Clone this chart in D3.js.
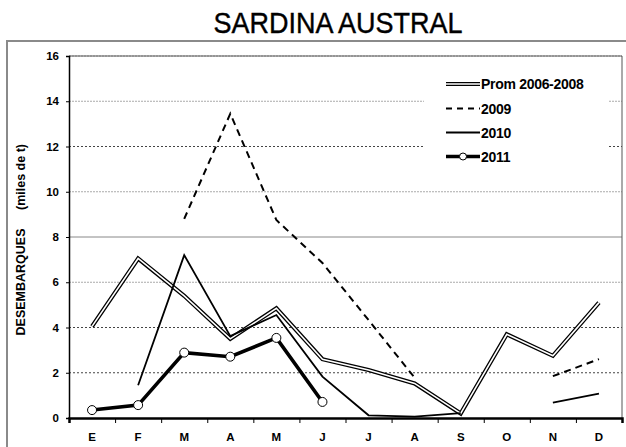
<!DOCTYPE html>
<html lang="es">
<head>
  <meta charset="UTF-8">
  <title>Sardina Austral</title>
  <style>
    body{ margin:0; background:#fff; font-family:'Liberation Sans', Arial, sans-serif; }
    #title{ font-family:'Liberation Sans', sans-serif; font-size:30px; stroke:#000; stroke-width:0.4px; }
    .tick text{ font-family:'Liberation Sans', Arial, sans-serif; font-weight:bold; font-size:11.5px; fill:#000; }
    .legend text{ font-weight:bold; font-size:14px; letter-spacing:-0.3px; }
  </style>
  <script src="https://cdn.jsdelivr.net/npm/d3@7"></script>
</head>
<body>
<svg id="chart" width="626" height="447"></svg>
<script>
// data (miles de t)
let months = ["E","F","M","A","M","J","J","A","S","O","N","D"]
let prom = [4.05, 7.05, 5.4, 3.5, 4.85, 2.6, 2.12, 1.53, 0.2, 3.7, 2.75, 5.1]
let y2009 = [null, null, 8.8, 13.45, 8.75, 6.85, 4.33, 1.78, null, null, 1.85, 2.6]
let y2010 = [null, 1.45, 7.2, 3.62, 4.55, 1.83, 0.12, 0.06, 0.22, null, 0.68, 1.08]
let y2011 = [0.35, 0.57, 2.89, 2.71, 3.54, 0.71, null, null, null, null, null, null]
let yTicks = [0, 2, 4, 6, 8, 10, 12, 14, 16]
let legendNames = ["Prom 2006-2008", "2009", "2010", "2011"]

let svg = d3.select("#chart")
let pLeft = 69, pRight = 622, pTop = 56, pBottom = 418

// outer frame + title
svg.append("rect").attr("x", 7).attr("y", 41).attr("width", 640).attr("height", 420)
  .attr("fill", "none").attr("stroke", "#8a8a8a").attr("stroke-width", 2)
svg.append("text").attr("id", "title").attr("transform", "translate(338,33) scale(0.9,1)")
  .attr("text-anchor", "middle")
  .text("SARDINA AUSTRAL")

let x = d3.scaleBand().domain(d3.range(12)).range([pLeft, pRight])
let xEdge = d3.scaleLinear().domain([0, 12]).range([pLeft, pRight])
let y = d3.scaleLinear().domain([0, 16]).range([pBottom, pTop])
let cx = i => x(i) + x.bandwidth() / 2

// gridlines
let gridStyle = v => v == 2 || v == 4 || v == 12 ? ["#444", "2,2"] : v == 8 ? ["#888", null] : ["#aaa", "2,1"]
svg.append("g").selectAll("line").data(yTicks.filter(v => v > 0)).join("line")
  .attr("x1", pLeft).attr("x2", pRight).attr("y1", d => y(d)).attr("y2", d => y(d))
  .attr("stroke", d => gridStyle(d)[0]).attr("stroke-dasharray", d => gridStyle(d)[1])
  .attr("stroke-width", 1)

// plot border top/right
svg.append("path").attr("d", `M${pLeft},${pTop}H${pRight}V${pBottom}`)
  .attr("fill", "none").attr("stroke", "#555").attr("stroke-width", 1)

// legend background hides gridlines
svg.append("rect").attr("x", 424).attr("y", 70).attr("width", 184).attr("height", 100).attr("fill", "#fff")

// axes
let yAxis = d3.axisLeft(y).tickValues(yTicks).tickSize(3).tickPadding(7)
svg.append("g").attr("transform", `translate(${pLeft},0)`).call(yAxis)
  .call(g => g.select(".domain").attr("stroke-width", 1.5))

svg.append("g").attr("transform", `translate(0,${pBottom})`)
  .call(d3.axisBottom(xEdge).ticks(12).tickSize(5).tickFormat(""))
  .call(g => g.select(".domain").attr("stroke-width", 2.5))
svg.append("g").attr("transform", `translate(0,${pBottom})`)
  .call(d3.axisBottom(x).tickSize(0).tickPadding(15).tickFormat(i => months[i]))
  .call(g => g.select(".domain").remove())

// y title
svg.append("text").attr("transform", "translate(25,282) rotate(-90)")
  .attr("text-anchor", "middle").attr("font-weight", "bold").attr("font-size", 12.5)
  .text("DESEMBARQUES")
svg.append("text").attr("transform", "translate(25,177) rotate(-90)")
  .attr("text-anchor", "middle").attr("font-weight", "bold").attr("font-size", 12.5)
  .text("(miles de t)")

let line = d3.line().defined(d => d != null).x((d, i) => cx(i)).y(d => y(d))

// prom: double line
svg.append("path").attr("d", line(prom)).attr("fill", "none").attr("stroke", "#000").attr("stroke-width", 4.2)
svg.append("path").attr("d", line(prom)).attr("fill", "none").attr("stroke", "#fff").attr("stroke-width", 1.6)

svg.append("path").attr("d", line(y2009)).attr("fill", "none").attr("stroke", "#000")
  .attr("stroke-width", 2).attr("stroke-dasharray", "7,5")

svg.append("path").attr("d", line(y2010)).attr("fill", "none").attr("stroke", "#000").attr("stroke-width", 1.8)

svg.append("path").attr("d", line(y2011)).attr("fill", "none").attr("stroke", "#000").attr("stroke-width", 3.6)
svg.append("g").selectAll("circle").data(y2011.map((v, i) => [v, i]).filter(d => d[0] != null)).join("circle")
  .attr("cx", d => cx(d[1])).attr("cy", d => y(d[0])).attr("r", 4.5)
  .attr("fill", "#fff").attr("stroke", "#000").attr("stroke-width", 1)

// legend
let legend = svg.append("g").attr("class", "legend")
let ly = [84, 108.5, 132.5, 156.5]
legendNames.forEach((name, k) => {
  let g = legend.append("g").attr("transform", `translate(0,${ly[k]})`)
  if (k == 0) {
    g.append("line").attr("x1", 446).attr("x2", 480).attr("stroke", "#000").attr("stroke-width", 4.2)
    g.append("line").attr("x1", 446).attr("x2", 480).attr("stroke", "#fff").attr("stroke-width", 1.6)
  } else if (k == 1) {
    g.append("line").attr("x1", 446).attr("x2", 480).attr("stroke", "#000").attr("stroke-width", 2).attr("stroke-dasharray", "6,5")
  } else if (k == 2) {
    g.append("line").attr("x1", 446).attr("x2", 480).attr("stroke", "#000").attr("stroke-width", 2)
  } else {
    g.append("line").attr("x1", 446).attr("x2", 480).attr("stroke", "#000").attr("stroke-width", 3.6)
    g.append("circle").attr("cx", 463).attr("r", 3.5).attr("fill", "#fff").attr("stroke", "#000")
  }
  g.append("text").attr("x", 481).attr("y", 5).text(name)
})
</script>
</body>
</html>
